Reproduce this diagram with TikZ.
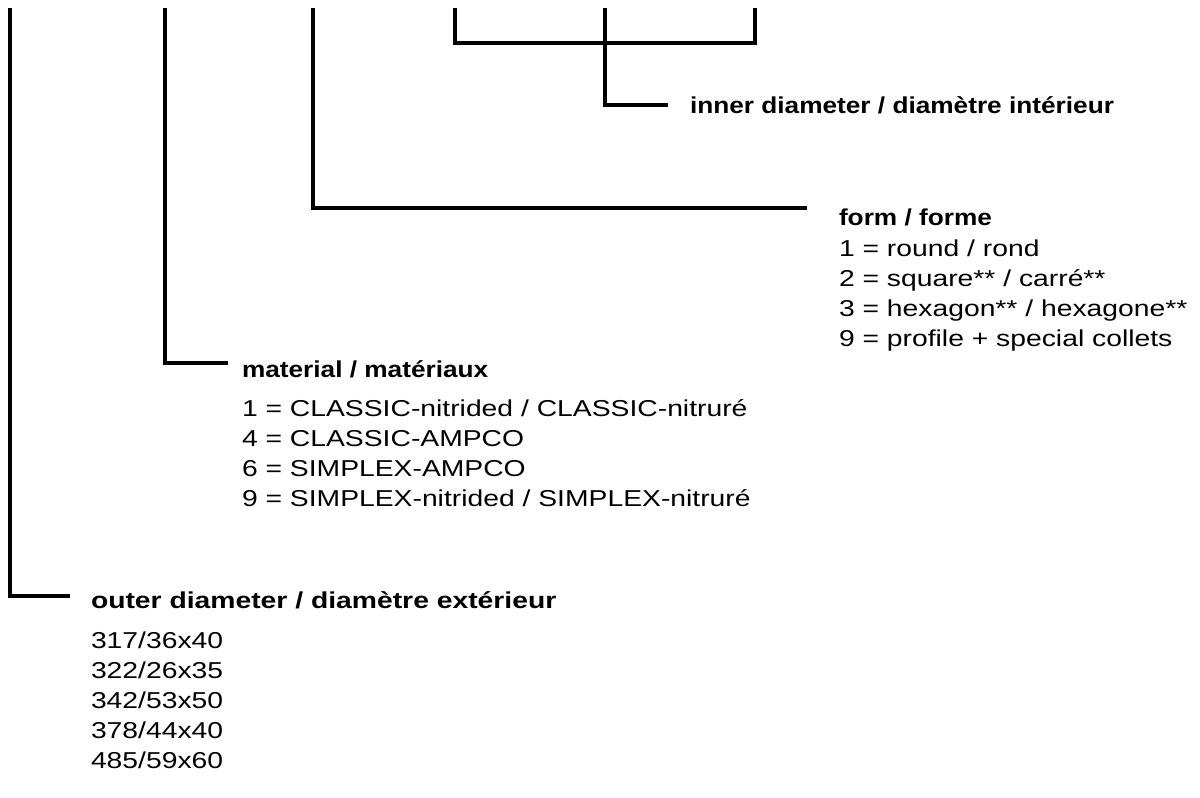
\documentclass[tikz,border=0pt]{standalone}
\usepackage{fontspec}
\setmainfont{Liberation Sans}[FakeStretch=1.23]
\newfontfamily\headfont{Liberation Sans}[FakeStretch=1.14]

\begin{document}
\begin{tikzpicture}
[x=0.5pt,y=-0.5pt,line width=2pt,
 txt/.style={anchor=base west,inner sep=0pt,font=\fontsize{11.5}{14}\selectfont},
 head/.style={txt,font=\fontsize{11.5}{14}\selectfont\bfseries},
 narrowhead/.style={txt,font=\fontsize{11.5}{14}\headfont\bfseries}]
\useasboundingbox (0,0) rectangle (1200,798);

% top ends of the leaders
\coordinate (t1) at (10,8);
\coordinate (t2) at (165,8);
\coordinate (t3) at (313,8);
\coordinate (t4) at (455,8);
\coordinate (t5) at (605,8);
\coordinate (t6) at (755,8);
\coordinate (b4) at (455,43);
\coordinate (b6) at (755,43);

% free ends next to the headings
\coordinate (e1) at (70,596);
\coordinate (e2) at (228,363);
\coordinate (e3) at (807,208);
\coordinate (e5) at (668,105);

\node[narrowhead] (h5) at (688,113) {inner diameter / diamètre intérieur};
\node[narrowhead] (h3) at (837,225) {form / forme};
\node[narrowhead] (h2) at (240,377) {material / matériaux};
\node[head] (h1) at (89,608) {outer diameter / diamètre extérieur};

\foreach \t [count=\i] in {1 = round / rond,2 = square** / carré**,3 = hexagon** / hexagone**,9 = profile + special collets}
\node[txt] (f\i) at (837,226+30*\i) {\t};

\foreach \t [count=\i] in {1 = CLASSIC-nitrided / CLASSIC-nitruré,4 = CLASSIC-AMPCO,6 = SIMPLEX-AMPCO,9 = SIMPLEX-nitrided / SIMPLEX-nitruré}
\node[txt] (m\i) at (240,386+30*\i) {\t};

\foreach \t [count=\i] in {317/36x40,322/26x35,342/53x50,378/44x40,485/59x60}
\node[txt] (o\i) at (89,618+30*\i) {\t};

\draw (t4) -- (b4) -- (b6) -- (t6);
\foreach \from/\to in {t1/e1,t2/e2,t3/e3,t5/e5}
\draw (\from) |- (\to);
\end{tikzpicture}
\end{document}
